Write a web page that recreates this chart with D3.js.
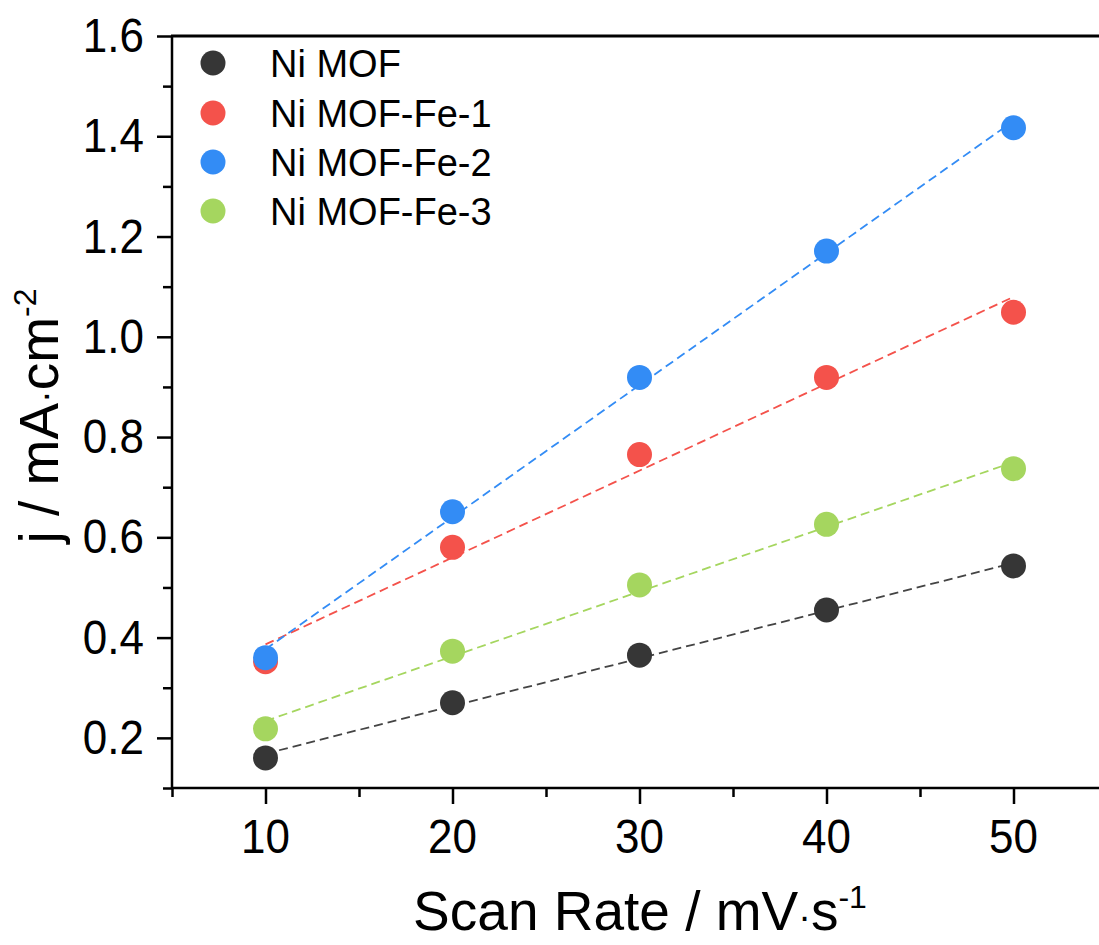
<!DOCTYPE html>
<html>
<head>
<meta charset="utf-8">
<script src="https://cdn.jsdelivr.net/npm/d3@7"></script>
<style>
  html, body { margin: 0; padding: 0; background: #fff; }
  svg { display: block; font-family: "Liberation Sans", Arial, sans-serif; }
</style>
</head>
<body>
<svg id="chart" width="1099" height="945"></svg>
<script>
// ---- data ----
const scanRates = [10, 20, 30, 40, 50];
const seriesNames = ["Ni MOF", "Ni MOF-Fe-1", "Ni MOF-Fe-2", "Ni MOF-Fe-3"];
const niMOF   = [0.160, 0.270, 0.365, 0.455, 0.543];
const niMOFFe1 = [0.352, 0.580, 0.765, 0.919, 1.049];
const niMOFFe2 = [0.360, 0.651, 0.919, 1.171, 1.417];
const niMOFFe3 = [0.218, 0.373, 0.505, 0.626, 0.737];
const seriesColors = ["#363636", "#f4524b", "#338cf5", "#a5d65f"];
const lineColors = ["#444444", "#f4524b", "#338cf5", "#a5d65f"];
const xMajorTicks = [10, 20, 30, 40, 50];
const xMinorTicks = [5, 15, 25, 35, 45, 55];
const yMajorTicks = [0.2, 0.4, 0.6, 0.8, 1.0, 1.2, 1.4, 1.6];
const yMinorTicks = [0.1, 0.3, 0.5, 0.7, 0.9, 1.1, 1.3, 1.5];

const seriesValues = [niMOF, niMOFFe1, niMOFFe2, niMOFFe3];

// ---- layout ----
const svg = d3.select("#chart");
svg.append("rect").attr("width", 1099).attr("height", 945).attr("fill", "#fff");

const x = d3.scaleLinear().domain([5, 55]).range([172, 1107]);
const y = d3.scaleLinear().domain([0.1, 1.6]).range([788, 36]);

const axisColor = "#000";
const tickW = 2.5;
const stretch = 1.11;

// minor ticks
svg.append("g").attr("transform", `translate(0,${y(0.1)})`)
  .call(d3.axisBottom(x).tickValues(xMinorTicks).tickSize(9).tickFormat(""))
  .call(g => g.select(".domain").remove())
  .call(g => g.selectAll("line").attr("stroke", axisColor).attr("stroke-width", tickW));
svg.append("g").attr("transform", `translate(${x(5)},0)`)
  .call(d3.axisLeft(y).tickValues(yMinorTicks).tickSize(9).tickFormat(""))
  .call(g => g.select(".domain").remove())
  .call(g => g.selectAll("line").attr("stroke", axisColor).attr("stroke-width", tickW));

// major ticks (labels drawn separately, slightly stretched vertically as in the source)
svg.append("g").attr("transform", `translate(0,${y(0.1)})`)
  .call(d3.axisBottom(x).tickValues(xMajorTicks).tickSize(16).tickFormat(""))
  .call(g => g.select(".domain").remove())
  .call(g => g.selectAll("line").attr("stroke", axisColor).attr("stroke-width", tickW));
svg.append("g").attr("transform", `translate(${x(5)},0)`)
  .call(d3.axisLeft(y).tickValues(yMajorTicks).tickSize(15).tickFormat(""))
  .call(g => g.select(".domain").remove())
  .call(g => g.selectAll("line").attr("stroke", axisColor).attr("stroke-width", tickW));

const fx = d3.format("d"), fy = d3.format(".1f");
svg.append("g").selectAll("text").data(xMajorTicks).join("text")
  .attr("transform", d => `translate(${x(d)},853) scale(1,${stretch})`)
  .attr("text-anchor", "middle").attr("font-size", 44).attr("fill", "#000")
  .text(d => fx(d));
svg.append("g").selectAll("text").data(yMajorTicks).join("text")
  .attr("transform", d => `translate(144,${y(d) + 16}) scale(1,${stretch})`)
  .attr("text-anchor", "end").attr("font-size", 44).attr("fill", "#000")
  .text(d => fy(d));

// axis lines (left, bottom, top)
svg.append("line").attr("x1", x(5)).attr("x2", x(5)).attr("y1", y(1.6)).attr("y2", y(0.1))
  .attr("stroke", axisColor).attr("stroke-width", 2.5);
svg.append("line").attr("x1", x(5) - 1).attr("x2", x(55)).attr("y1", y(0.1)).attr("y2", y(0.1))
  .attr("stroke", axisColor).attr("stroke-width", 2.5);
svg.append("line").attr("x1", x(5) - 1).attr("x2", x(55)).attr("y1", y(1.6)).attr("y2", y(1.6))
  .attr("stroke", axisColor).attr("stroke-width", 2.8);

// linear fits
function fit(xs, ys) {
  const mx = d3.mean(xs), my = d3.mean(ys);
  let num = 0, den = 0;
  xs.forEach((xv, i) => { num += (xv - mx) * (ys[i] - my); den += (xv - mx) ** 2; });
  const b = num / den, a = my - b * mx;
  return v => a + b * v;
}
const xFirst = d3.min(scanRates), xLast = d3.max(scanRates);
seriesValues.forEach((vals, i) => {
  const f = fit(scanRates, vals);
  svg.append("line")
    .attr("x1", x(xFirst)).attr("y1", y(f(xFirst)))
    .attr("x2", x(xLast)).attr("y2", y(f(xLast)))
    .attr("stroke", lineColors[i]).attr("stroke-width", 1.8)
    .attr("stroke-dasharray", "9,5");
});

// points
seriesValues.forEach((vals, i) => {
  svg.append("g").selectAll("circle").data(vals).join("circle")
    .attr("cx", (d, j) => x(scanRates[j]))
    .attr("cy", d => y(d))
    .attr("r", 12.5)
    .attr("fill", seriesColors[i]);
});

// legend
const legendY = [63, 113, 162, 211];
seriesNames.forEach((name, i) => {
  svg.append("circle").attr("cx", 213).attr("cy", legendY[i]).attr("r", 12.5).attr("fill", seriesColors[i]);
  svg.append("text").attr("x", 270).attr("y", legendY[i]).attr("dy", "0.36em")
    .attr("font-size", 38).attr("fill", "#000").text(name);
});

// axis titles
const xt = svg.append("text").attr("x", 640).attr("y", 930).attr("text-anchor", "middle")
  .attr("font-size", 55).attr("fill", "#000");
xt.append("tspan").text("Scan Rate / mV");
xt.append("tspan").attr("font-size", 38).text("\u00B7");
xt.append("tspan").text("s");
xt.append("tspan").attr("font-size", 32).attr("dy", -22).text("-1");

const yt = svg.append("text").attr("transform", "translate(58,416) rotate(-90)")
  .attr("text-anchor", "middle").attr("font-size", 55).attr("fill", "#000");
yt.append("tspan").text("j / mA");
yt.append("tspan").attr("font-size", 38).text("\u00B7");
yt.append("tspan").text("cm");
yt.append("tspan").attr("font-size", 32).attr("dy", -22).text("-2");
</script>
</body>
</html>
